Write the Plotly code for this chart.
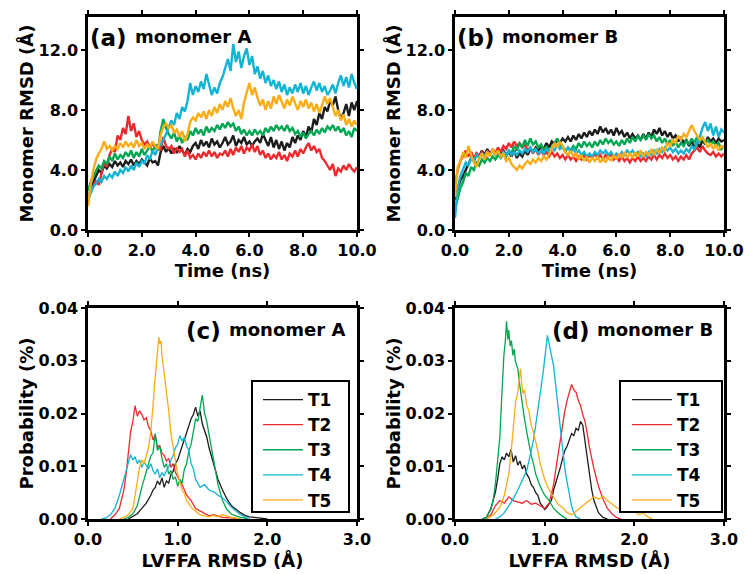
import numpy as np
import plotly.graph_objects as go

# ---------------- data ----------------
TIME = np.round(np.arange(0, 10.01, 0.1), 2).tolist()
SERIES = ["T1", "T2", "T3", "T4", "T5"]

A_T1 = [1.8,2.8,3.2,3.6,4.0,3.8,4.3,4.1,4.4,4.2,
        4.6,4.3,4.5,4.2,4.6,4.4,4.7,4.3,4.6,4.4,
        4.7,4.5,4.3,4.8,4.5,4.6,4.3,5.2,5.6,5.2,
        5.5,5.1,5.4,5.2,5.6,5.3,5.0,5.4,5.2,5.6,
        5.8,5.4,6.0,5.6,5.9,5.5,6.1,5.7,5.9,5.5,
        5.8,6.2,5.7,5.9,6.3,5.6,6.0,5.8,6.2,5.7,
        5.9,5.6,5.9,6.1,5.8,6.4,6.0,5.6,6.2,5.5,
        6.0,5.4,5.9,5.3,5.8,5.5,6.2,5.8,6.3,6.0,
        6.6,6.2,6.9,6.5,7.4,7.0,7.8,7.4,8.2,7.9,
        8.6,8.3,8.9,8.0,7.4,7.8,8.4,7.6,8.5,8.0,8.6]
A_T2 = [2.0,2.6,2.9,3.3,3.0,3.8,4.5,4.2,5.0,5.4,
        5.2,6.3,6.0,6.8,6.4,7.6,6.6,7.1,6.2,6.6,
        6.0,5.7,5.9,5.5,5.8,5.4,5.7,5.3,6.2,5.6,
        5.4,5.6,5.1,5.5,5.2,5.4,4.9,5.3,4.8,5.0,
        4.7,5.1,4.8,5.2,4.9,5.3,4.9,5.2,4.8,5.1,
        5.0,5.3,4.9,5.4,5.0,5.5,5.2,5.6,5.1,5.5,
        5.3,5.7,5.2,5.6,5.0,5.3,4.8,5.1,4.7,5.0,
        4.8,5.2,4.7,5.0,4.6,5.1,4.9,5.3,4.9,5.4,
        5.1,5.5,5.8,5.3,5.6,5.2,5.4,4.8,4.6,4.3,
        4.0,4.4,3.6,4.1,3.9,4.3,4.0,4.4,4.1,3.9,4.2]
A_T3 = [2.6,3.2,3.6,4.0,4.3,4.1,4.6,4.4,4.9,4.6,
        5.1,4.7,5.0,4.8,5.2,4.9,5.3,4.8,5.2,4.9,
        5.4,5.0,5.3,5.6,5.2,5.7,5.3,6.6,7.4,6.8,
        6.4,6.1,6.5,5.9,6.3,5.8,6.2,6.0,6.6,6.3,
        6.8,6.4,6.7,6.3,6.9,6.5,6.8,6.6,7.0,6.7,
        7.1,6.8,7.2,6.9,7.1,6.6,6.9,6.4,6.7,6.3,
        6.6,6.3,6.7,6.4,6.6,6.3,6.8,6.5,6.9,6.6,
        7.0,6.7,6.9,6.6,7.0,6.6,6.8,6.4,6.6,6.2,
        6.5,6.1,6.4,6.6,6.3,6.7,6.4,6.8,6.5,6.9,
        6.7,7.0,6.6,6.9,6.5,6.8,6.3,6.6,6.2,6.8,6.6]
A_T4 = [2.0,2.5,2.9,3.1,3.4,3.2,3.6,3.4,3.7,3.5,
        3.9,3.6,4.0,3.8,4.2,3.9,4.3,4.0,4.5,4.2,
        4.6,4.4,5.0,4.7,5.3,5.0,5.5,5.7,6.0,6.4,
        6.9,7.3,7.0,7.8,7.4,8.2,7.9,8.6,9.8,9.0,
        9.6,9.2,9.9,9.4,10.4,9.6,9.0,9.5,9.1,9.8,
        10.2,10.8,11.4,10.6,12.4,11.2,11.9,10.8,11.6,12.1,
        11.0,11.6,10.4,10.9,10.1,10.6,9.8,10.3,9.6,10.0,
        9.4,9.9,9.2,9.7,9.0,9.5,9.1,9.7,9.2,9.8,
        9.1,9.6,9.0,9.5,9.9,9.3,9.8,9.2,9.6,9.0,
        9.3,9.7,9.1,9.8,10.3,9.6,10.2,9.5,10.4,9.8,9.4]
A_T5 = [1.6,3.0,4.0,4.7,5.1,5.4,5.9,5.4,5.6,5.3,
        5.6,5.4,5.8,5.5,5.9,5.6,5.8,5.5,6.0,5.6,
        5.8,5.4,5.7,5.5,5.9,5.6,5.4,6.3,6.9,7.1,
        6.8,7.0,6.5,6.7,6.2,6.6,5.9,6.4,7.2,7.5,
        7.3,7.8,7.5,7.9,7.4,8.0,7.6,8.2,7.8,8.4,
        8.0,8.6,8.2,8.8,8.1,7.6,8.0,7.4,8.5,9.2,
        9.8,9.0,9.5,8.8,8.3,8.7,8.0,8.6,8.1,8.9,
        8.4,9.0,8.5,8.1,8.7,8.3,8.9,8.5,8.0,8.6,
        8.2,8.7,8.1,8.5,7.9,8.4,7.8,8.3,8.9,8.4,
        8.8,8.2,7.6,8.0,7.3,7.7,7.0,7.4,6.9,7.3,7.0]

B_T1 = [2.0,2.8,3.3,3.6,4.0,4.4,4.8,4.6,5.1,4.9,
        5.3,5.0,5.4,5.1,5.3,5.0,5.4,5.1,5.3,5.0,
        5.2,4.9,5.3,4.8,5.1,4.9,5.3,5.0,5.4,5.2,
        5.5,5.3,5.6,5.4,5.8,5.5,5.9,5.7,6.0,5.8,
        6.1,5.9,6.2,5.9,6.3,6.0,6.4,6.1,6.5,6.2,
        6.6,6.3,6.7,6.4,6.9,6.5,6.8,6.4,6.7,6.3,
        6.8,6.4,6.6,6.2,6.5,6.1,6.4,6.1,6.3,6.0,
        6.4,6.1,6.5,6.2,6.7,6.4,6.8,6.3,6.6,6.2,
        6.5,6.1,6.3,5.9,6.2,5.8,6.0,5.6,5.9,5.5,
        5.8,5.5,6.0,5.7,6.2,5.9,6.1,5.8,6.1,5.9,6.0]
B_T2 = [3.0,4.0,4.6,5.0,5.3,4.9,5.2,4.8,5.1,4.9,
        5.2,4.9,5.3,5.0,5.4,5.1,5.5,5.2,5.6,5.4,
        5.8,5.5,5.9,5.6,5.8,5.5,5.7,5.3,5.5,5.1,
        5.4,5.0,5.3,5.0,5.2,4.9,5.2,4.9,5.1,4.8,
        5.0,4.7,5.0,4.7,4.9,4.6,4.9,4.7,5.0,4.7,
        5.0,4.8,5.1,4.8,5.0,4.7,5.0,4.8,5.1,4.7,
        4.9,4.6,4.9,4.6,4.8,4.5,4.8,4.6,4.9,4.6,
        4.8,4.6,4.9,4.7,5.0,4.7,5.0,4.8,5.1,4.8,
        5.0,4.7,4.9,4.6,4.9,4.7,5.0,4.7,5.1,5.3,
        5.5,5.2,5.6,5.3,5.1,5.0,5.2,4.9,5.1,4.9,5.1]
B_T3 = [1.4,2.2,2.8,3.2,3.8,3.6,4.2,4.0,4.5,4.3,
        4.7,4.5,4.8,4.6,4.9,4.7,5.0,4.8,5.1,4.9,
        5.3,5.1,5.6,5.3,5.8,5.5,6.0,5.6,6.1,5.7,
        5.9,5.5,5.7,5.3,5.6,5.2,5.5,5.8,6.1,5.7,
        5.5,5.2,5.5,5.3,5.6,5.4,5.8,5.5,5.9,5.6,
        5.8,5.5,5.9,5.6,6.0,5.7,6.1,5.8,6.0,5.7,
        5.9,5.6,6.0,5.7,6.1,5.8,6.2,5.9,6.3,6.0,
        6.3,6.0,6.4,6.1,6.3,5.9,6.2,5.8,6.1,5.7,
        6.0,5.6,5.9,5.5,5.8,5.6,6.0,5.7,6.1,5.8,
        6.2,5.9,6.1,5.8,6.0,5.7,5.9,5.6,5.8,5.4,5.6]
B_T4 = [0.8,2.8,3.6,4.1,4.5,4.3,4.8,4.6,5.0,4.8,
        5.1,4.9,5.2,5.0,5.3,5.0,5.2,4.9,5.2,5.0,
        5.3,5.0,5.2,5.0,5.3,5.1,5.4,5.2,5.5,5.2,
        5.4,5.1,5.3,5.1,5.4,5.2,5.5,5.3,5.7,5.4,
        5.6,5.3,5.5,5.2,5.4,5.1,5.3,5.0,5.2,4.9,
        5.1,4.9,5.2,5.0,5.3,5.1,5.3,5.0,5.2,4.9,
        5.1,4.9,5.2,5.0,5.3,5.1,5.3,5.0,5.2,4.9,
        5.1,4.9,5.2,5.0,5.3,5.1,5.4,5.2,5.5,5.3,
        5.5,5.2,5.4,5.1,5.3,5.1,5.4,5.2,5.6,5.4,
        5.8,6.2,6.8,7.2,6.6,7.1,6.3,6.9,6.2,6.7,6.5]
B_T5 = [2.2,4.2,4.6,5.2,4.8,5.6,5.0,4.5,4.2,4.8,
        5.1,4.7,5.2,4.9,5.4,5.0,5.3,4.9,5.1,4.6,
        4.8,4.4,4.2,4.0,4.3,4.1,4.4,4.6,4.4,4.7,
        4.5,4.8,4.6,4.9,4.7,5.1,5.5,5.8,5.5,5.9,
        5.6,5.2,5.0,5.3,4.9,5.1,4.7,5.0,4.6,4.9,
        4.5,4.8,4.6,4.9,4.5,4.8,4.5,4.9,4.6,5.0,
        4.7,5.1,4.8,5.2,4.8,5.1,4.8,5.2,4.9,5.3,
        4.9,5.2,5.0,5.4,5.0,5.4,5.1,5.5,5.3,5.8,
        5.6,6.0,5.8,6.3,6.0,6.4,6.2,6.6,7.0,6.6,
        6.3,6.0,6.2,5.8,5.5,5.8,5.4,5.7,5.3,5.6,5.5]

# histograms, panel (c) monomer A
C_T1_X = [0.45,0.5,0.55,0.6,0.65,0.7,0.725,0.75,0.775,0.8,0.825,0.85,0.875,0.9,0.925,0.95,0.975,1.0,1.025,1.05,1.075,1.1,1.125,1.15,1.175,1.2,1.225,1.25,1.275,1.3,1.325,1.35,1.375,1.4,1.425,1.45,1.5,1.55,1.6,1.65,1.7,1.75,1.8,1.9,2.0]
C_T1_Y = [0,0.0005,0.001,0.002,0.003,0.0045,0.0055,0.006,0.0072,0.0065,0.0078,0.006,0.0072,0.0068,0.0085,0.009,0.0105,0.0112,0.0125,0.0135,0.015,0.0162,0.0175,0.019,0.0198,0.0212,0.0195,0.0205,0.018,0.0168,0.0155,0.0135,0.012,0.0105,0.009,0.0075,0.0055,0.0038,0.0025,0.0018,0.0012,0.0007,0.0004,0.0002,0.0]
C_T2_X = [0.25,0.3,0.35,0.4,0.425,0.45,0.475,0.5,0.525,0.55,0.575,0.6,0.625,0.65,0.675,0.7,0.725,0.75,0.775,0.8,0.825,0.85,0.875,0.9,0.925,0.95,0.975,1.0,1.05,1.1,1.15,1.2,1.25,1.3,1.35,1.4,1.5,1.6,1.7]
C_T2_Y = [0,0.0008,0.002,0.0055,0.0085,0.0125,0.0165,0.0185,0.0215,0.0195,0.0205,0.0198,0.0188,0.0192,0.0175,0.0168,0.015,0.016,0.0135,0.014,0.0125,0.012,0.011,0.0115,0.0098,0.0105,0.0088,0.008,0.0065,0.0045,0.0035,0.002,0.0015,0.001,0.0006,0.0008,0.0003,0.0002,0]
C_T3_X = [0.4,0.45,0.5,0.55,0.6,0.625,0.65,0.675,0.7,0.725,0.75,0.775,0.8,0.825,0.85,0.875,0.9,0.925,0.95,0.975,1.0,1.025,1.05,1.075,1.1,1.125,1.15,1.175,1.2,1.225,1.25,1.275,1.3,1.325,1.35,1.375,1.4,1.45,1.5,1.55,1.6,1.7,1.8]
C_T3_Y = [0,0.0003,0.001,0.0025,0.006,0.0075,0.009,0.0105,0.012,0.0125,0.0162,0.013,0.0138,0.0115,0.0098,0.0105,0.0085,0.0092,0.0075,0.008,0.0062,0.0075,0.0068,0.0095,0.0105,0.013,0.0142,0.0165,0.019,0.0185,0.0215,0.0235,0.02,0.0185,0.016,0.0135,0.011,0.0065,0.0035,0.0018,0.0009,0.0003,0]
C_T4_X = [0.15,0.2,0.25,0.3,0.35,0.4,0.425,0.45,0.475,0.5,0.525,0.55,0.575,0.6,0.625,0.65,0.675,0.7,0.725,0.75,0.775,0.8,0.825,0.85,0.875,0.9,0.925,0.95,0.975,1.0,1.025,1.05,1.075,1.1,1.125,1.15,1.175,1.2,1.25,1.3,1.35,1.4,1.45,1.5,1.55,1.6,1.65,1.7,1.8]
C_T4_Y = [0,0.0002,0.0008,0.002,0.0045,0.0075,0.0095,0.0105,0.0122,0.0112,0.0118,0.0105,0.0112,0.0098,0.0108,0.0102,0.0095,0.0105,0.0092,0.0085,0.0095,0.0078,0.0088,0.0082,0.0092,0.0098,0.0112,0.012,0.0135,0.0142,0.0158,0.0148,0.0155,0.0138,0.013,0.0105,0.0095,0.0075,0.006,0.0065,0.0055,0.0052,0.0045,0.004,0.0032,0.0022,0.0015,0.0008,0]
C_T5_X = [0.35,0.4,0.45,0.5,0.525,0.55,0.575,0.6,0.625,0.65,0.675,0.7,0.71,0.725,0.74,0.75,0.765,0.775,0.79,0.8,0.815,0.825,0.84,0.85,0.865,0.875,0.9,0.925,0.95,0.975,1.0,1.025,1.05,1.075,1.1,1.15,1.2,1.25,1.3,1.35,1.4,1.45,1.5,1.55,1.6,1.7]
C_T5_Y = [0,0.0003,0.0008,0.002,0.0045,0.0075,0.0098,0.0112,0.0105,0.012,0.0135,0.0165,0.018,0.0215,0.025,0.0268,0.0298,0.0322,0.0345,0.0332,0.0338,0.031,0.029,0.0272,0.0255,0.0235,0.0205,0.0162,0.0135,0.0112,0.0085,0.007,0.0055,0.0048,0.0035,0.0022,0.0015,0.0008,0.0006,0.0004,0.0007,0.0004,0.0008,0.0005,0.0003,0]

# histograms, panel (d) monomer B
D_T1_X = [0.3,0.35,0.4,0.45,0.475,0.5,0.525,0.55,0.575,0.6,0.625,0.65,0.675,0.7,0.725,0.75,0.775,0.8,0.825,0.85,0.875,0.9,0.925,0.95,0.975,1.0,1.025,1.05,1.075,1.1,1.125,1.15,1.175,1.2,1.225,1.25,1.275,1.3,1.325,1.35,1.375,1.4,1.425,1.45,1.475,1.5,1.525,1.55,1.6,1.65,1.7]
D_T1_Y = [0,0.0003,0.002,0.005,0.0075,0.0105,0.0118,0.0112,0.0125,0.0118,0.0132,0.0108,0.012,0.0102,0.011,0.0095,0.0102,0.0085,0.0078,0.0065,0.006,0.005,0.0045,0.003,0.0025,0.0018,0.0022,0.0028,0.0035,0.0055,0.0068,0.0085,0.0098,0.0115,0.013,0.0138,0.0152,0.0162,0.0158,0.0172,0.0168,0.0185,0.0178,0.0145,0.0115,0.0085,0.0055,0.0035,0.0012,0.0003,0]
D_T2_X = [0.35,0.4,0.45,0.5,0.55,0.6,0.65,0.7,0.75,0.8,0.85,0.9,0.95,1.0,1.05,1.075,1.1,1.125,1.15,1.175,1.2,1.225,1.25,1.275,1.3,1.325,1.35,1.375,1.4,1.425,1.45,1.475,1.5,1.55,1.6,1.65,1.7,1.75,1.8,1.85]
D_T2_Y = [0,0.0008,0.0025,0.0035,0.003,0.0042,0.0035,0.0032,0.003,0.0035,0.0028,0.003,0.0025,0.002,0.003,0.0045,0.0065,0.0095,0.0125,0.0155,0.0178,0.0205,0.0225,0.0242,0.0255,0.0245,0.024,0.0225,0.0215,0.0198,0.0185,0.0162,0.0135,0.0095,0.0062,0.0038,0.002,0.001,0.0003,0]
D_T3_X = [0.3,0.35,0.4,0.425,0.45,0.475,0.5,0.515,0.53,0.545,0.56,0.575,0.59,0.6,0.615,0.63,0.645,0.66,0.675,0.7,0.725,0.75,0.775,0.8,0.825,0.85,0.875,0.9,0.95,1.0,1.05,1.1,1.15,1.2,1.25]
D_T3_Y = [0,0.0003,0.0018,0.0035,0.0065,0.0105,0.0155,0.021,0.0265,0.031,0.0335,0.0375,0.034,0.0358,0.0328,0.0338,0.031,0.0322,0.0298,0.0285,0.025,0.0215,0.019,0.0165,0.0142,0.012,0.0105,0.0085,0.0062,0.0045,0.0035,0.002,0.0012,0.0005,0]
D_T4_X = [0.45,0.5,0.55,0.6,0.65,0.7,0.75,0.8,0.825,0.85,0.875,0.9,0.925,0.95,0.975,0.99,1.0,1.015,1.03,1.045,1.06,1.075,1.1,1.125,1.15,1.175,1.2,1.225,1.25,1.275,1.3,1.325,1.35,1.4]
D_T4_Y = [0,0.0004,0.0012,0.0025,0.0038,0.0055,0.0072,0.0092,0.011,0.013,0.015,0.0178,0.0205,0.0232,0.0268,0.0288,0.031,0.0325,0.0348,0.0335,0.0325,0.0305,0.029,0.025,0.021,0.017,0.013,0.0095,0.007,0.0045,0.0025,0.0012,0.0004,0]
D_T5_X = [0.35,0.4,0.45,0.5,0.55,0.6,0.625,0.65,0.675,0.7,0.715,0.73,0.745,0.76,0.775,0.8,0.825,0.85,0.875,0.9,0.925,0.95,0.975,1.0,1.05,1.1,1.15,1.2,1.25,1.3,1.35,1.4,1.45,1.5,1.55,1.6,1.65,1.7,1.75,1.8,1.85,1.9,1.95,2.0,2.05,2.1,2.15,2.2]
D_T5_Y = [0,0.0005,0.0012,0.0022,0.0045,0.0085,0.0125,0.0175,0.022,0.024,0.0265,0.0285,0.0255,0.0238,0.0245,0.0215,0.0205,0.0178,0.0165,0.0148,0.0128,0.0105,0.0092,0.0075,0.0055,0.0042,0.0028,0.0022,0.0012,0.0008,0.0015,0.0022,0.0028,0.0035,0.0042,0.0038,0.0043,0.0035,0.0028,0.0022,0.0018,0.0022,0.0012,0.0015,0.0008,0.0012,0.0004,0]

COLORS = ["#1c1c1c", "#ee2a2f", "#00a651", "#12b4d4", "#fbad18"]

# ---------------- figure ----------------
W, H = 746, 574
FONT = "DejaVu Sans"


def px(x):
    return x / W


def py(y):
    return 1 - y / H


fig = go.Figure()

panels_time = [("x", "y", [A_T1, A_T2, A_T3, A_T4, A_T5]),
               ("x2", "y2", [B_T1, B_T2, B_T3, B_T4, B_T5])]
for xa, ya, data in panels_time:
    for name, vals, col in zip(SERIES, data, COLORS):
        fig.add_trace(go.Scatter(x=TIME, y=vals, mode="lines", name=name,
                                 line=dict(color=col, width=2.4), showlegend=False,
                                 xaxis=xa, yaxis=ya))

panels_hist = [("x3", "y3", "legend",
                [(C_T1_X, C_T1_Y), (C_T2_X, C_T2_Y), (C_T3_X, C_T3_Y), (C_T4_X, C_T4_Y), (C_T5_X, C_T5_Y)]),
               ("x4", "y4", "legend2",
                [(D_T1_X, D_T1_Y), (D_T2_X, D_T2_Y), (D_T3_X, D_T3_Y), (D_T4_X, D_T4_Y), (D_T5_X, D_T5_Y)])]
for xa, ya, leg, data in panels_hist:
    for name, (xs, ys), col in zip(SERIES, data, COLORS):
        fig.add_trace(go.Scatter(x=xs, y=ys, mode="lines", name=name,
                                 line=dict(color=col, width=1.3), legend=leg,
                                 xaxis=xa, yaxis=ya))

tickfont = dict(family=FONT, size=16, color="black", weight="bold")
titlefont = dict(family=FONT, size=18, color="black", weight="bold")

common = dict(showline=True, linecolor="black", linewidth=2.5, mirror="ticks",
              ticks="outside", ticklen=4, tickwidth=2, tickcolor="black",
              showgrid=False, zeroline=False, tickfont=tickfont, automargin=False)

xl_a, xr_a = px(88), px(357)
xl_b, xr_b = px(455), px(724)
yt_top, yb_top = py(17), py(230)
yt_bot, yb_bot = py(308), py(519)

fig.update_layout(
    width=W, height=H, margin=dict(l=0, r=0, t=0, b=0, autoexpand=False),
    paper_bgcolor="white", plot_bgcolor="white",
    xaxis=dict(domain=[xl_a, xr_a], anchor="y", range=[0, 10], tickvals=[0, 2, 4, 6, 8, 10],
               tickformat=".1f", title=dict(text="Time (ns)", font=titlefont, standoff=4), **common),
    yaxis=dict(domain=[yb_top, yt_top], anchor="x", range=[0, 14.2], tickvals=[0, 4, 8, 12],
               tickformat=".1f", title=dict(text="Monomer RMSD (Å)", font=titlefont, standoff=1), **common),
    xaxis2=dict(domain=[xl_b, xr_b], anchor="y2", range=[0, 10], tickvals=[0, 2, 4, 6, 8, 10],
                tickformat=".1f", title=dict(text="Time (ns)", font=titlefont, standoff=4), **common),
    yaxis2=dict(domain=[yb_top, yt_top], anchor="x2", range=[0, 14.2], tickvals=[0, 4, 8, 12],
                tickformat=".1f", title=dict(text="Monomer RMSD (Å)", font=titlefont, standoff=1), **common),
    xaxis3=dict(domain=[xl_a, xr_a], anchor="y3", range=[0, 3], tickvals=[0, 1, 2, 3],
                tickformat=".1f", title=dict(text="LVFFA RMSD (Å)", font=titlefont, standoff=4), **common),
    yaxis3=dict(domain=[yb_bot, yt_bot], anchor="x3", range=[0, 0.04], tickvals=[0, 0.01, 0.02, 0.03, 0.04],
                tickformat=".2f", title=dict(text="Probability (%)", font=titlefont, standoff=1), **common),
    xaxis4=dict(domain=[xl_b, xr_b], anchor="y4", range=[0, 3], tickvals=[0, 1, 2, 3],
                tickformat=".1f", title=dict(text="LVFFA RMSD (Å)", font=titlefont, standoff=4), **common),
    yaxis4=dict(domain=[yb_bot, yt_bot], anchor="x4", range=[0, 0.04], tickvals=[0, 0.01, 0.02, 0.03, 0.04],
                tickformat=".2f", title=dict(text="Probability (%)", font=titlefont, standoff=1), **common),
)

# legend frames (boxes) drawn as shapes, legends placed inside
for x0, x1 in [(252, 349), (620, 722)]:
    fig.add_shape(type="rect", xref="paper", yref="paper", layer="above",
                  x0=px(x0), x1=px(x1), y0=py(512), y1=py(381),
                  line=dict(color="black", width=2), fillcolor="white")

legfont = dict(family=FONT, size=17, color="black", weight="bold")
fig.update_layout(
    legend=dict(x=px(258), y=py(382), xanchor="left", yanchor="top", bgcolor="rgba(0,0,0,0)",
                borderwidth=0, font=legfont, itemwidth=40),
    legend2=dict(x=px(627), y=py(382), xanchor="left", yanchor="top", bgcolor="rgba(0,0,0,0)",
                 borderwidth=0, font=legfont, itemwidth=40),
)

labels = [
    ("(a)", 109, 38, 23), ("monomer A", 193, 36, 18),
    ("(b)", 476, 38, 23), ("monomer B", 560, 36, 18),
    ("(c)", 203, 331, 23), ("monomer A", 287, 329, 18),
    ("(d)", 571, 331, 23), ("monomer B", 655, 329, 18),
]
for text, x, y, size in labels:
    fig.add_annotation(text=text, x=px(x), y=py(y), xref="paper", yref="paper",
                       xanchor="center", yanchor="middle", showarrow=False,
                       font=dict(family=FONT, size=size, color="black", weight="bold"))

fig.write_html("out.html")
